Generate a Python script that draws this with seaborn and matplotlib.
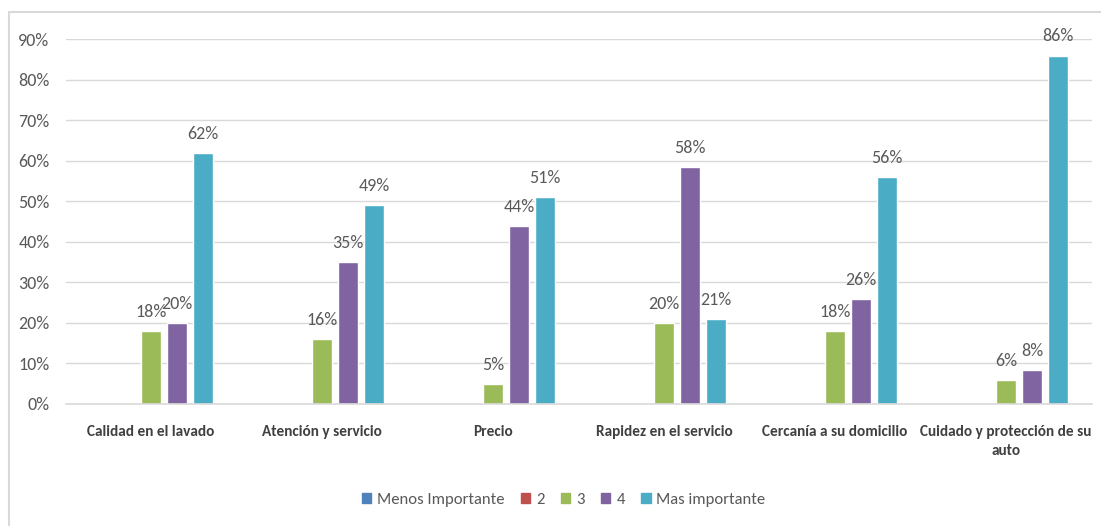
import matplotlib
matplotlib.use("Agg")
import matplotlib.pyplot as plt
import seaborn as sns
import pandas as pd
from matplotlib.patches import Rectangle
from matplotlib.ticker import FuncFormatter
import logging
logging.getLogger("matplotlib.font_manager").setLevel(logging.ERROR)

categories = ["Calidad en el lavado", "Atención y servicio", "Precio",
              "Rapidez en el servicio", "Cercanía a su domicilio",
              "Cuidado y protección de su\nauto"]
series_names = ["Menos Importante", "2", "3", "4", "Mas importante"]
menos = [0, 0, 0, 0, 0, 0]
dos = [0, 0, 0, 0, 0, 0]
tres = [18, 16, 5, 20, 18, 6]
cuatro = [20, 35, 44, 58.5, 26, 8.4]
mas = [62, 49, 51, 21, 56, 86]
colors = ["#4F81BD", "#C0504D", "#9BBB59", "#8064A2", "#4BACC6"]

rows = []
for name, vals in zip(series_names, [menos, dos, tres, cuatro, mas]):
    for c, v in zip(categories, vals):
        rows.append({"Categoria": c, "Serie": name, "Valor": v})
df = pd.DataFrame(rows)

sns.set_theme(style="white")
plt.rcParams['font.family'] = ['Carlito', 'Archivo Narrow', 'DejaVu Sans']

fig = plt.figure(figsize=(11.01, 5.26), dpi=100)
fig.patches.append(Rectangle((9/1101, -0.1), 1.2, 1 - 12/526 + 0.1,
                             transform=fig.transFigure, fill=False,
                             edgecolor="#D9D9D9", linewidth=1.5))
ax = fig.add_axes([65.5/1101, 1 - 404/526, 1026/1101, (404 - 39.3)/526])

sns.barplot(data=df, x="Categoria", y="Valor", hue="Serie", order=categories,
            hue_order=series_names, palette=colors, width=0.76, gap=0.23,
            ax=ax, legend=True, saturation=1)

ax.set_ylim(0, 90)
ax.set_yticks(range(0, 91, 10))
ax.yaxis.set_major_formatter(FuncFormatter(lambda v, p: f"{v:.0f}%"))
ax.set_xlim(-0.5, len(categories) - 0.5)
ax.grid(axis="y", color="#D9D9D9", linewidth=1)
ax.set_axisbelow(True)
for s in ["top", "right", "left"]:
    ax.spines[s].set_visible(False)
ax.spines["bottom"].set_color("#D9D9D9")
ax.spines["bottom"].set_linewidth(1.2)
ax.tick_params(axis="both", length=0)
ax.tick_params(axis="y", labelsize=13, labelcolor="#595959", pad=11.5)
ax.tick_params(axis="x", labelsize=11, labelcolor="#404040", pad=15)
for t in ax.get_xticklabels():
    t.set_fontweight("bold")
    t.set_linespacing(1.45)
ax.set_xlabel("")
ax.set_ylabel("")

for cont in ax.containers:
    for bar in cont:
        h = bar.get_height()
        if h > 0:
            ax.annotate(f"{h:.0f}%", (bar.get_x() + bar.get_width()/2, h),
                        xytext=(0, 8), textcoords="offset points",
                        ha="center", va="bottom", fontsize=13, color="#595959")

ax.get_legend().remove()
handles = [Rectangle((0, 0), 1, 1, color=c) for c in colors]
fig.legend(handles, series_names, loc="center", bbox_to_anchor=(0.512, 1 - 500/526),
           ncol=5, frameon=False, fontsize=12, handlelength=0.55, handleheight=0.55,
           handletextpad=0.35, columnspacing=1.0, labelcolor="#595959")

fig.savefig("out.png", dpi=100)
